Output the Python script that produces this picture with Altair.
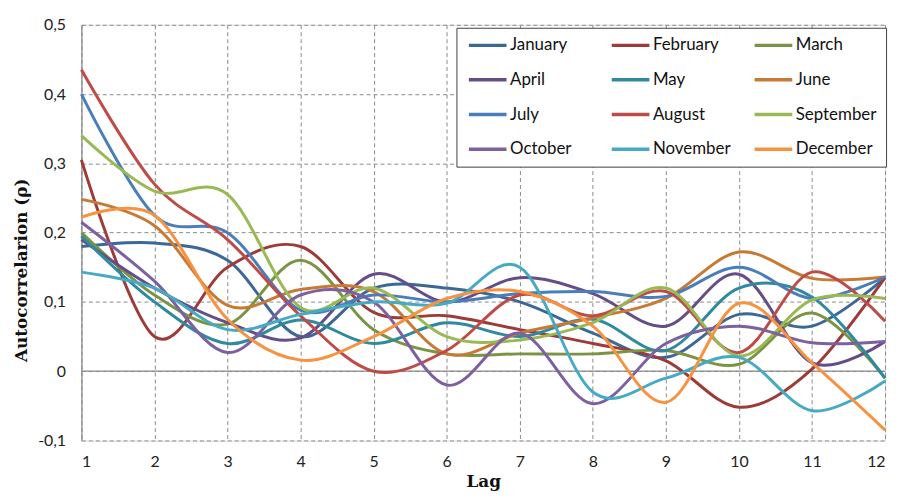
import altair as alt
import pandas as pd

lags = list(range(1, 13))
months = ["January", "February", "March", "April", "May", "June",
          "July", "August", "September", "October", "November", "December"]
colors = ["#3B6897", "#9C3B38", "#7A9443", "#654D88", "#2F8AA0", "#C77A36",
          "#4A7EBB", "#BE4B48", "#98B954", "#7D60A0", "#46AAC5", "#F69240"]
# legend reading order (filled column by column, shows row by row)
legend_order = ["January", "April", "July", "October",
                "February", "May", "August", "November",
                "March", "June", "September", "December"]

january = [0.180, 0.185, 0.160, 0.050, 0.120, 0.120, 0.100, 0.055, 0.020, 0.082, 0.065, 0.135]
february = [0.305, 0.050, 0.150, 0.180, 0.085, 0.080, 0.060, 0.040, 0.015, -0.052, 0.003, 0.135]
march = [0.200, 0.110, 0.068, 0.160, 0.060, 0.025, 0.025, 0.025, 0.030, 0.010, 0.084, -0.010]
april = [0.190, 0.120, 0.070, 0.048, 0.140, 0.100, 0.135, 0.112, 0.065, 0.140, 0.012, 0.043]
may = [0.195, 0.100, 0.040, 0.074, 0.040, 0.070, 0.050, 0.075, 0.030, 0.120, 0.107, -0.010]
june = [0.248, 0.210, 0.095, 0.118, 0.115, 0.025, 0.055, 0.077, 0.105, 0.172, 0.134, 0.136]
july = [0.400, 0.225, 0.200, 0.088, 0.110, 0.100, 0.112, 0.115, 0.108, 0.150, 0.105, 0.136]
august = [0.435, 0.270, 0.190, 0.080, 0.000, 0.030, 0.110, 0.080, 0.115, 0.027, 0.143, 0.072]
september = [0.340, 0.260, 0.255, 0.092, 0.120, 0.050, 0.045, 0.070, 0.120, 0.022, 0.103, 0.105]
october = [0.215, 0.130, 0.027, 0.110, 0.100, -0.020, 0.055, -0.047, 0.040, 0.065, 0.041, 0.043]
november = [0.143, 0.120, 0.060, 0.082, 0.100, 0.098, 0.150, -0.030, -0.010, 0.020, -0.057, -0.014]
december = [0.222, 0.225, 0.075, 0.016, 0.050, 0.105, 0.115, 0.065, -0.045, 0.098, 0.012, -0.085]

series = [january, february, march, april, may, june,
          july, august, september, october, november, december]

y_ticks = [-0.1, 0, 0.1, 0.2, 0.3, 0.4, 0.5]

rows = []
for m, vals in zip(months, series):
    for l, v in zip(lags, vals):
        rows.append({"Lag": l, "Month": m, "Value": v})
df = pd.DataFrame(rows)

label_font = "Lato"
title_font = "DejaVu Serif"

y_label_expr = ("datum.value == 0 ? '0' : replace(replace(format(datum.value, '.1f'), '.', ','), '\u2212', '-')")

lines = alt.Chart(df).mark_line(interpolate="cardinal", strokeWidth=3).encode(
    x=alt.X("Lag:Q",
            scale=alt.Scale(domain=[1, 12], nice=False),
            axis=alt.Axis(values=lags, title="Lag", titleFont=title_font, titleFontSize=17,
                          titleFontWeight="bold", titleColor="#111", titlePadding=4,
                          labelFont=label_font, labelFontSize=16, labelColor="#222",
                          labelPadding=13, ticks=False, domain=False,
                          grid=True, gridColor="#8a8a8a", gridDash=[4, 3], gridWidth=1,
                          format="d")),
    y=alt.Y("Value:Q",
            scale=alt.Scale(domain=[-0.1, 0.5], nice=False),
            axis=alt.Axis(values=y_ticks, title="Autocorrelarion (ρ)", titleFont=title_font,
                          titleFontSize=17, titleFontWeight="bold", titleColor="#111",
                          titleX=-60, titleY=247, titleAngle=-90, titleBaseline="middle",
                          titleAlign="center",
                          labelFont=label_font, labelFontSize=16, labelColor="#222",
                          labelPadding=16, ticks=False, domain=True, domainColor="#8a8a8a",
                          domainWidth=1.2,
                          grid=True, gridColor="#8a8a8a", gridDash=[4, 3], gridWidth=1,
                          labelExpr=y_label_expr)),
    color=alt.Color("Month:N",
                    scale=alt.Scale(domain=months, range=colors),
                    sort=months,
                    legend=alt.Legend(title=None, orient="none", legendX=378, legendY=3,
                                      values=legend_order,
                                      columns=3, symbolType="M-4,0H4", symbolSize=90,
                                      symbolOffset=14,
                                      symbolStrokeWidth=3.5, labelFont=label_font,
                                      labelFontSize=17, labelColor="#111",
                                      labelOffset=14, labelLimit=200,
                                      strokeColor="#404040", fillColor="white",
                                      padding=9, rowPadding=17, columnPadding=13,
                                      gridAlign="all")),
)

zero_df = pd.DataFrame({"y": [0]})
zero = alt.Chart(zero_df).mark_rule(color="#8a8a8a", strokeWidth=1.2).encode(y="y:Q")

chart = alt.layer(zero, lines).properties(
    width=810, height=419,
    autosize=alt.AutoSizeParams(type="none"),
    padding={"left": 74, "top": 15, "right": 8, "bottom": 50},
).configure_view(stroke=None).configure(background="white")

chart.save("out.html", embed_options={"renderer": "svg", "actions": False})
